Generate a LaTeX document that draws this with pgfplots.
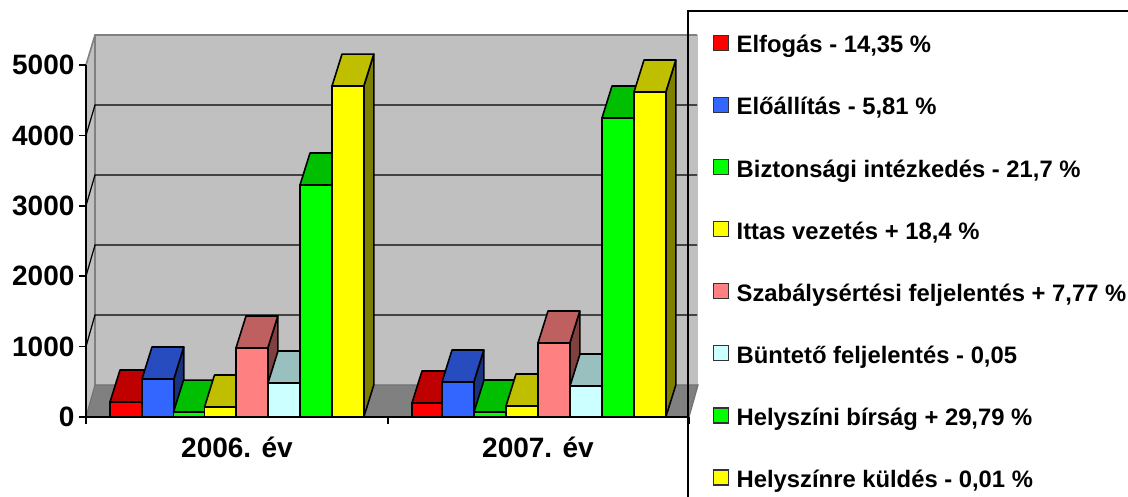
\documentclass[border=0pt]{standalone}
\usepackage{fontspec}
\setmainfont{Liberation Sans}
\usepackage{pgfplots}
\pgfplotsset{compat=1.18}
\definecolor{cR}{HTML}{FF0000}\definecolor{tR}{HTML}{BF0000}\definecolor{sR}{HTML}{800000}
\definecolor{cB}{HTML}{3366FF}\definecolor{tB}{HTML}{264CBF}\definecolor{sB}{HTML}{1A3380}
\definecolor{cG}{HTML}{00FF00}\definecolor{tG}{HTML}{00BF00}\definecolor{sG}{HTML}{008000}
\definecolor{cY}{HTML}{FFFF00}\definecolor{tY}{HTML}{BFBF00}\definecolor{sY}{HTML}{808000}
\definecolor{cS}{HTML}{FF8080}\definecolor{tS}{HTML}{BF6060}\definecolor{sS}{HTML}{804040}
\definecolor{cC}{HTML}{CCFFFF}\definecolor{tC}{HTML}{99BFBF}\definecolor{sC}{HTML}{668080}
\definecolor{wall}{HTML}{C0C0C0}
\newcommand{\tdbar}[3]{% x, value, colour key
  \pgfmathsetmacro{\xa}{#1+31.8}\pgfmathsetmacro{\xb}{#1+10}\pgfmathsetmacro{\xc}{#1+41.8}
  \pgfmathsetmacro{\vb}{#2+454.5}
  \addplot[forget plot,draw=black,line width=1.6pt,line join=round,fill=s#3] coordinates {(\xa,0)(\xc,454.5)(\xc,\vb)(\xa,#2)} -- cycle;
  \addplot[forget plot,draw=black,line width=1.6pt,line join=round,fill=t#3] coordinates {(#1,#2)(\xb,\vb)(\xc,\vb)(\xa,#2)} -- cycle;
  \addplot[forget plot,draw=black,line width=1.6pt,line join=round,fill=c#3] coordinates {(#1,0)(#1,#2)(\xa,#2)(\xa,0)} -- cycle;
}
\pgfplotsset{swatch/.style={legend image code/.code={\draw[fill=#1,draw=black!80,line width=1.2pt] (0pt,2.5pt) rectangle (15pt,17.5pt);}}}
\begin{document}
\begin{tikzpicture}
\begin{axis}[
  scale only axis, width=603pt, height=352pt,
  xmin=86, xmax=689, ymin=0, ymax=5000, clip=false, axis on top,
  axis x line*=bottom, axis y line*=left, axis line style={-,line width=1.6pt,black},
  xtick={86,388,689}, xticklabels={},
  extra x ticks={237,538}, extra x tick labels={2006. év,2007. év},
  extra x tick style={major tick length=0pt, tick label style={font=\fontsize{28}{32}\bfseries\selectfont, yshift=-16pt}},
  ytick={0,1000,2000,3000,4000,5000},
  tick align=outside, major tick length=7pt, tick style={black,line width=1.6pt},
  yticklabel style={font=\fontsize{28}{32}\bfseries\selectfont, xshift=-1pt},
  /pgf/number format/assume math mode=true, /pgf/number format/1000 sep={},
  legend style={at={(axis cs:712.3,5923)}, anchor=north west, draw=none, fill=none, yshift=-34.5pt,
    font=\fontsize{23.8}{28}\bfseries\selectfont,
    nodes={inner sep=0pt, text height=17pt, text depth=5pt, anchor=base west},
    row sep=39pt, /tikz/column 1/.style={column sep=8pt}, inner sep=0pt},
  legend cell align=left,
]
% legend panel (white), lies under the chart walls
\addplot[forget plot,draw=none,fill=white] coordinates {(688,5767)(1128,5767)(1128,-1136)(688,-1136)} -- cycle;
% back wall, side wall, floor
\addplot[forget plot,fill=wall,draw=none] coordinates {(95,454.5)(95,5426)(698,5426)(698,454.5)} -- cycle;
\addplot[forget plot,fill=wall,draw=none] coordinates {(86,0)(86,5000)(95,5426)(95,454.5)} -- cycle;
\addplot[forget plot,black!50,line width=1.6pt] coordinates {(86,5000)(95,5426)(697,5426)};
\addplot[forget plot,black!50,line width=1.6pt] coordinates {(95,5426)(95,454.5)};
\addplot[forget plot,fill=black!50,draw=black!55,line width=1.2pt] coordinates {(86,0)(689,0)(698,454.5)(95,454.5)} -- cycle;
% gridlines
\addplot[forget plot,black,line width=1.2pt] coordinates {(86,1000)(95,1449)(697,1449)};
\addplot[forget plot,black,line width=1.2pt] coordinates {(86,2000)(95,2443)(697,2443)};
\addplot[forget plot,black,line width=1.2pt] coordinates {(86,3000)(95,3438)(697,3438)};
\addplot[forget plot,black,line width=1.2pt] coordinates {(86,4000)(95,4432)(697,4432)};
% 2006
\tdbar{110}{213}{R}
\tdbar{142}{540}{B}
\tdbar{173.5}{70}{G}
\tdbar{204.5}{142}{Y}
\tdbar{236}{980}{S}
\tdbar{268}{483}{C}
\tdbar{300}{3295}{G}
\tdbar{332}{4700}{Y}
% 2007
\tdbar{412}{199}{R}
\tdbar{442}{497}{B}
\tdbar{474}{71}{G}
\tdbar{506}{156}{Y}
\tdbar{538}{1051}{S}
\tdbar{570}{440}{C}
\tdbar{602}{4247}{G}
\tdbar{634}{4616}{Y}
% legend border
\addplot[forget plot,black,line width=1.6pt] coordinates {(1128,5767)(688,5767)(688,-1136)};
\addlegendimage{swatch=cR}\addlegendentry{Elfogás - 14,35 \%}
\addlegendimage{swatch=cB}\addlegendentry{Előállítás - 5,81 \%}
\addlegendimage{swatch=cG}\addlegendentry{Biztonsági intézkedés - 21,7 \%}
\addlegendimage{swatch=cY}\addlegendentry{Ittas vezetés + 18,4 \%}
\addlegendimage{swatch=cS}\addlegendentry{Szabálysértési feljelentés + 7,77 \%}
\addlegendimage{swatch=cC}\addlegendentry{Büntető feljelentés - 0,05}
\addlegendimage{swatch=cG}\addlegendentry{Helyszíni bírság + 29,79 \%}
\addlegendimage{swatch=cY}\addlegendentry{Helyszínre küldés - 0,01 \%}
\coordinate (pa) at (axis cs:0,-1136.4);
\coordinate (pb) at (axis cs:1128,5923.3);
\end{axis}
\pgfresetboundingbox
\path[use as bounding box] (pa) rectangle (pb);
\end{tikzpicture}
\end{document}
